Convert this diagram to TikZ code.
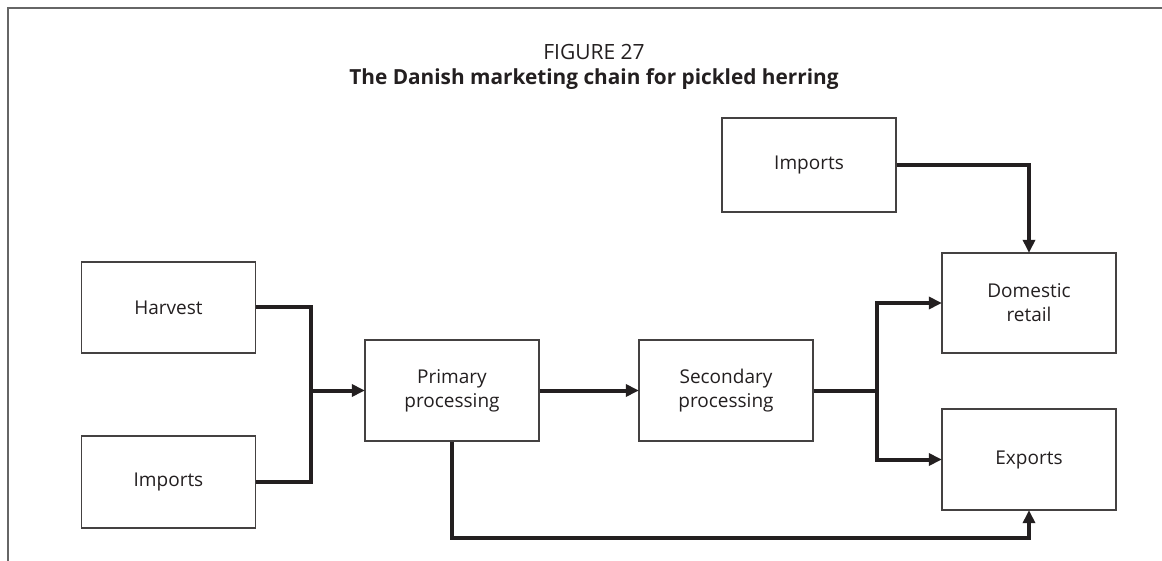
\documentclass[tikz,border=0pt]{standalone}
\usepackage{fontspec}
\setmainfont{Open Sans}
\usetikzlibrary{arrows.meta}
\definecolor{ink}{HTML}{231F20}
\definecolor{framec}{HTML}{666666}
\tikzset{
  box/.style={draw=ink!85, line width=1.3pt, fill=white, text=ink, align=center,
    minimum width=174pt, inner sep=0pt, font=\fontsize{19}{24}\selectfont},
  flow/.style={draw=ink, line width=4pt},
  flowarrow/.style={flow, -{Triangle[length=13pt,width=12pt]}, shorten >=-0.5pt},
}
\begin{document}
\begin{tikzpicture}[x=1pt,y=-1pt]
\useasboundingbox (0,0) rectangle (1162,561);
% frame
\draw[framec, line width=1.8pt] (8,561) coordinate (fl) -- (8,8) coordinate (fc) -- (1162,8) coordinate (fr);
% title
\node[anchor=base, text=ink, font=\fontsize{21}{24}\selectfont, inner sep=0pt] (t1) at (594,60) {FIGURE 27};
\node[anchor=base, text=ink, font=\bfseries\fontsize{20.8}{24}\selectfont, inner sep=0pt] (t2) at (594,85) {The Danish marketing chain for pickled herring};
% boxes
\node[box, minimum height=91pt] (harvest) at (168.5,307.5) {Harvest};
\node[box, minimum height=92pt] (impL) at (168.5,482) {Imports};
\node[box, minimum height=101pt] (primary) at (452,390.5) {Primary\\processing};
\node[box, minimum height=101pt] (secondary) at (726,390.5) {Secondary\\processing};
\node[box, minimum height=94pt] (impT) at (809,165) {Imports};
\node[box, minimum height=100pt] (domestic) at (1029,303) {Domestic\\retail};
\node[box, minimum height=101pt] (exports) at (1029,459.5) {Exports};
% junctions
\coordinate (j1) at (311,390.5);
\coordinate (j2) at (877,390.5);
\coordinate (bl) at (452,538);
% connectors
\draw[flow] (harvest.east) -| (j1);
\draw[flow] (impL.east) -| (j1);
\draw[flowarrow] (j1) -- (primary.west);
\draw[flowarrow] (primary.east) -- (secondary.west);
\draw[flow] (secondary.east) -- (j2);
\draw[flowarrow] (j2) |- (domestic.west);
\draw[flowarrow] (j2) |- (exports.west);
\draw[flowarrow] (impT.east) -| (domestic.north);
\draw[flowarrow] (primary.south) -- (bl) -| (exports.south);
\end{tikzpicture}
\end{document}
